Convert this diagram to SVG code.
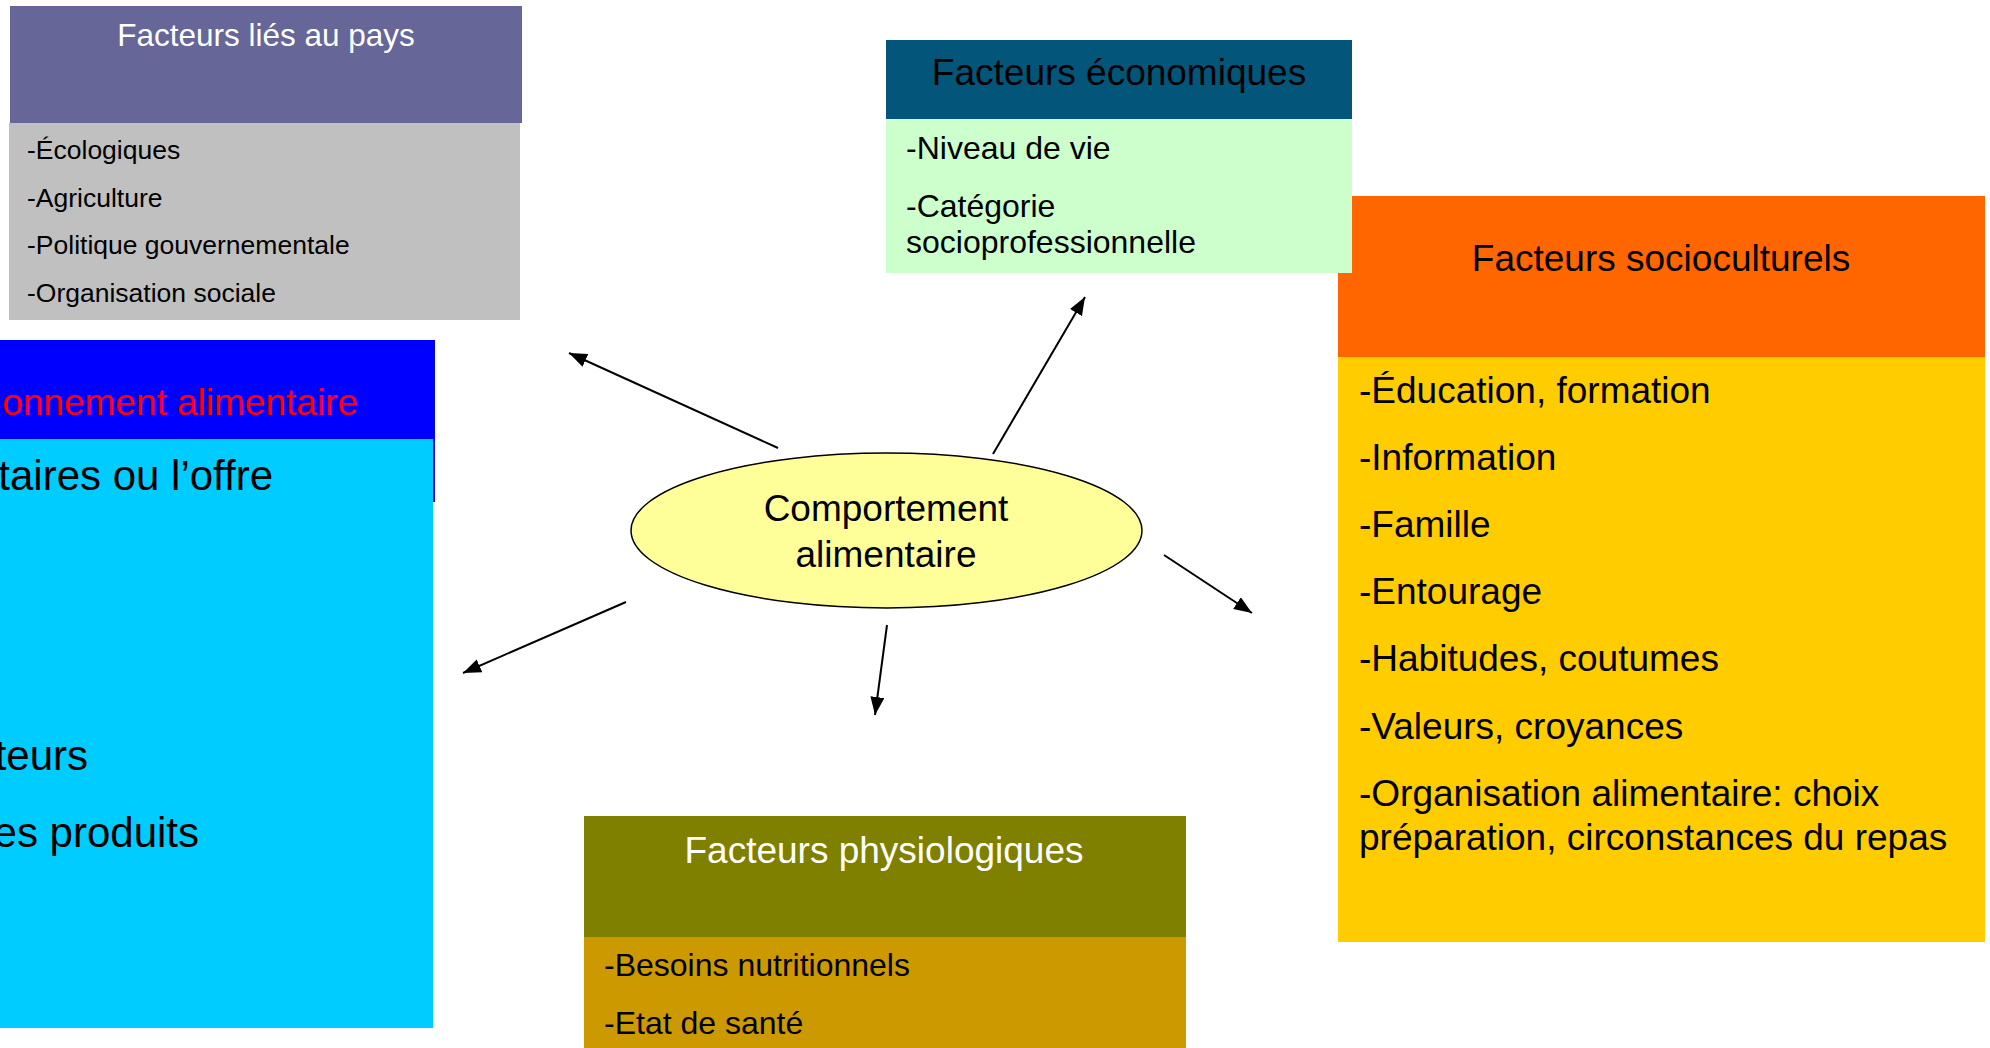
<svg xmlns="http://www.w3.org/2000/svg" width="1990" height="1048" viewBox="0 0 1990 1048">
<defs>
<style>
text{font-family:"Liberation Sans",Arial,Helvetica,sans-serif;fill:#000}
.h37{font-size:37px}
.w{fill:#fff}
.s26{font-size:26.5px}
.s32{font-size:32px}
.s42{font-size:42px}
.mid{text-anchor:middle}
.end{text-anchor:end}
.conn{stroke:#000;stroke-width:2;fill:none;marker-end:url(#ah)}
</style>
<marker id="ah" markerUnits="userSpaceOnUse" markerWidth="20" markerHeight="14" refX="18" refY="7" orient="auto"><path d="M0,0 L18,7 L0,14 z" fill="#000"/></marker>
</defs>
<rect width="1990" height="1048" fill="#fff"/>

<g id="facteurs-pays">
<rect x="10" y="6" width="512" height="117" fill="#666699"/>
<rect x="9" y="123" width="511" height="197" fill="#C0C0C0"/>
<text x="266" y="46" class="mid w" font-size="31.5">Facteurs liés au pays</text>
<text x="27" y="159" class="s26">-Écologiques</text>
<text x="27" y="207" class="s26">-Agriculture</text>
<text x="27" y="254" class="s26">-Politique gouvernementale</text>
<text x="27" y="302" class="s26">-Organisation sociale</text>
</g>

<g id="facteurs-socioculturels">
<rect x="1338" y="196" width="647" height="161" fill="#FF6600"/>
<rect x="1338" y="357" width="647" height="585" fill="#FFCC00"/>
<text x="1661" y="271" class="h37 mid">Facteurs socioculturels</text>
<text x="1359" y="403" class="h37">-Éducation, formation</text>
<text x="1359" y="470" class="h37">-Information</text>
<text x="1359" y="537" class="h37">-Famille</text>
<text x="1359" y="604" class="h37">-Entourage</text>
<text x="1359" y="671" class="h37">-Habitudes, coutumes</text>
<text x="1359" y="739" class="h37">-Valeurs, croyances</text>
<text x="1359" y="806" class="h37">-Organisation alimentaire: choix</text>
<text x="1359" y="850" class="h37">préparation, circonstances du repas</text>
</g>

<g id="facteurs-economiques">
<rect x="886" y="40" width="466" height="79" fill="#03567A"/>
<rect x="886" y="119" width="466" height="154" fill="#CCFFCC"/>
<text x="1119" y="85" class="h37 mid">Facteurs économiques</text>
<text x="906" y="159" class="s32">-Niveau de vie</text>
<text x="906" y="217" class="s32">-Catégorie</text>
<text x="906" y="253" class="s32">socioprofessionnelle</text>
</g>

<g id="environnement-alimentaire">
<rect x="0" y="340" width="435" height="162" fill="#0000FF"/>
<rect x="0" y="439" width="433" height="589" fill="#00CCFF"/>
<text x="358" y="415" class="h37 end" style="fill:#FF0000">onnement alimentaire</text>
<text x="273" y="490" class="s42 end">taires ou l’offre</text>
<text x="88" y="770" class="s42 end">teurs</text>
<text x="199" y="847" class="s42 end">es produits</text>
</g>

<g id="facteurs-physiologiques">
<rect x="584" y="816" width="602" height="121" fill="#808000"/>
<rect x="584" y="937" width="602" height="111" fill="#CC9900"/>
<text x="884" y="863" class="h37 mid w">Facteurs physiologiques</text>
<text x="604" y="976" class="s32">-Besoins nutritionnels</text>
<text x="604" y="1034" class="s32">-Etat de santé</text>
</g>

<g id="comportement-alimentaire">
<ellipse cx="886.5" cy="530.5" rx="255.5" ry="77.5" fill="#FFFF99" stroke="#000" stroke-width="1.5"/>
<text x="886" y="521" class="h37 mid">Comportement</text>
<text x="886" y="567" class="h37 mid">alimentaire</text>
</g>

<g id="connectors">
<path class="conn" d="M778,448 L569,353"/>
<path class="conn" d="M993,454 L1085,297"/>
<path class="conn" d="M1164,555 L1252,613"/>
<path class="conn" d="M887,625 L875,715"/>
<path class="conn" d="M626,602 L463,673"/>
</g>
</svg>
